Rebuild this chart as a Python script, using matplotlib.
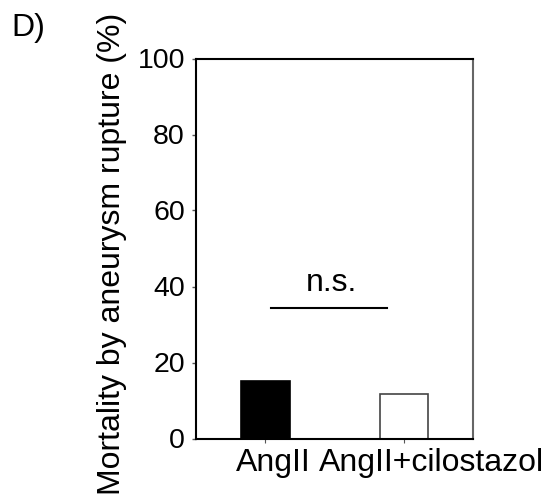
import matplotlib
matplotlib.use("Agg")
import matplotlib.pyplot as plt
import matplotlib.transforms as mtransforms

plt.rcParams["font.family"] = ["Liberation Sans", "DejaVu Sans"]

## data
groups = ["AngII", "AngII+cilostazol"]
mortality = [15.1, 11.8]
ns_level = 34.4
y_ticks = [0, 20, 40, 60, 80, 100]

## chart
fig = plt.figure(figsize=(5.55, 5), dpi=100)
ax = fig.add_axes([0.3532, 0.123, 0.4991, 0.760])

x = list(range(len(groups)))
ax.bar(x, mortality, width=0.35,
       color=["black", "white"], edgecolor=["black", "#444444"],
       linewidth=1.2)

## n.s. bracket
ax.plot([0.04, 0.877], [ns_level, ns_level], color="black", lw=1.5)
ax.text(0.479, ns_level + 2.6, "n.s.", ha="center", va="bottom", fontsize=23)

ax.set_xlim(-0.5, 1.5)
ax.set_ylim(0, 100)
ax.set_yticks(y_ticks)
ax.set_xticks(x)
ax.set_xticklabels(groups)

ax.tick_params(axis="y", labelsize=20.5, length=3, width=1, pad=5,
               direction="out", color="#555555")
ax.tick_params(axis="x", labelsize=23, length=3, width=0.8, pad=4,
               direction="out", color="#555555")

## labels sit right of their ticks in the original
shifts = [8, 28]
for lab, dx in zip(ax.get_xticklabels(), shifts):
    lab.set_transform(lab.get_transform() +
                      mtransforms.ScaledTranslation(dx / 100, 0, fig.dpi_scale_trans))

for side in ["left", "bottom", "top"]:
    ax.spines[side].set_linewidth(1.5)
    ax.spines[side].set_color("black")
ax.spines["right"].set_linewidth(1.5)
ax.spines["right"].set_color("#666666")

ax.set_ylabel("Mortality by aneurysm rupture (%)", fontsize=23)
ax.yaxis.set_label_coords(-0.25, 0.485)

fig.text(0.02, 0.928, "D)", fontsize=23, ha="left", va="baseline")

plt.savefig("out.png", dpi=100)
